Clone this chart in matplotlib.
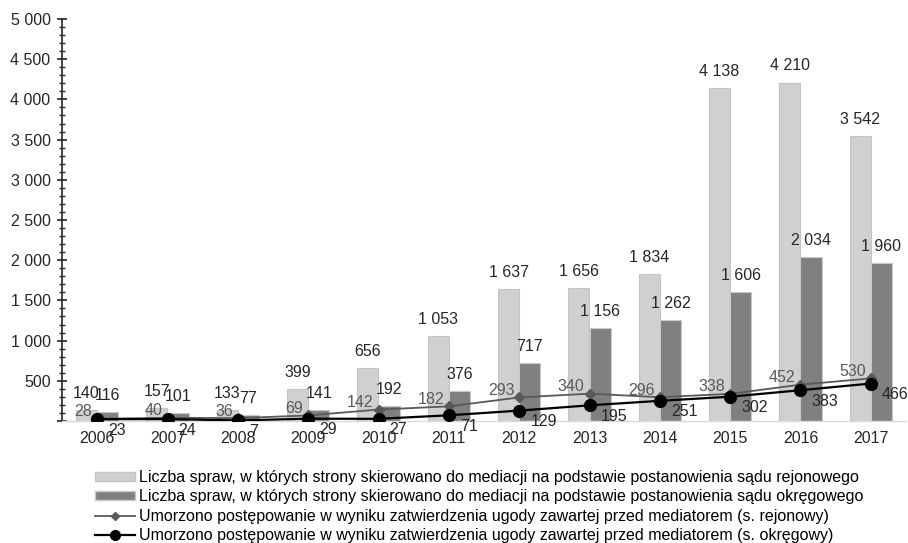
import matplotlib
matplotlib.use("Agg")
import matplotlib.pyplot as plt
import numpy as np
from matplotlib.ticker import FuncFormatter, MultipleLocator
from matplotlib.patches import Patch
from matplotlib.lines import Line2D

plt.rcParams['font.family'] = ['Liberation Sans', 'DejaVu Sans']

years = ['2006', '2007', '2008', '2009', '2010', '2011', '2012', '2013', '2014', '2015', '2016', '2017']
rejonowy_spr = [140, 157, 133, 399, 656, 1053, 1637, 1656, 1834, 4138, 4210, 3542]
okregowy_spr = [116, 101, 77, 141, 192, 376, 717, 1156, 1262, 1606, 2034, 1960]
rejonowy_umorz = [28, 40, 36, 69, 142, 182, 293, 340, 296, 338, 452, 530]
okregowy_umorz = [23, 24, 7, 29, 27, 71, 129, 195, 251, 302, 383, 466]

legend_labels = [
    "Liczba spraw, w których strony skierowano do mediacji na podstawie postanowienia sądu rejonowego",
    "Liczba spraw, w których strony skierowano do mediacji na podstawie postanowienia sądu okręgowego",
    "Umorzono postępowanie w wyniku zatwierdzenia ugody zawartej przed mediatorem (s. rejonowy)",
    "Umorzono postępowanie w wyniku zatwierdzenia ugody zawartej przed mediatorem (s. okręgowy)",
]

def fmt(v):
    return f"{int(v):,}".replace(",", " ")

fig = plt.figure(figsize=(9.08, 5.43), dpi=100)
ax = fig.add_axes([62/908, 122/543, 844/908, (421-19)/543])

x = np.arange(len(years))
w = 0.30
c_light = '#d0d0d0'
c_dark = '#808080'
ax.bar(x - w/2, rejonowy_spr, w, color=c_light, edgecolor='#c4c4c4', linewidth=0.8, zorder=2)
ax.bar(x + w/2, okregowy_spr, w, color=c_dark, edgecolor='#c8c8c8', linewidth=0.8, zorder=2)
ax.plot(x, rejonowy_umorz, color='#595959', lw=1.3, marker='D', ms=5.5, zorder=3)
ax.plot(x, okregowy_umorz, color='black', lw=1.6, marker='o', ms=8.5, zorder=4)

fs = 11.5
for xi, v in zip(x, rejonowy_spr):
    ax.annotate(fmt(v), (xi - w/2, v), xytext=(0, 6.5), textcoords='offset points',
                ha='center', va='bottom', fontsize=fs, color='#262626')
for xi, v in zip(x, okregowy_spr):
    ax.annotate(fmt(v), (xi + w/2, v), xytext=(0, 6.5), textcoords='offset points',
                ha='center', va='bottom', fontsize=fs, color='#262626')
for xi, v in zip(x, rejonowy_umorz):
    ax.annotate(fmt(v), (xi, v), xytext=(-3.5, 5), textcoords='offset points',
                ha='right', va='center', fontsize=fs, color='#595959')
for xi, v in zip(x, okregowy_umorz):
    ax.annotate(fmt(v), (xi, v), xytext=(8, -8), textcoords='offset points',
                ha='left', va='center', fontsize=fs, color='#262626')

ax.set_xlim(-0.5, len(years) - 0.5)
ax.set_ylim(0, 5000)
ax.set_xticks(x)
ax.set_xticklabels(years, fontsize=fs, color='#262626')
ax.yaxis.set_major_locator(MultipleLocator(500))
ax.yaxis.set_minor_locator(MultipleLocator(100))
ax.yaxis.set_major_formatter(FuncFormatter(lambda v, p: '' if v == 0 else fmt(v)))
ax.tick_params(axis='y', which='major', direction='inout', length=6.5, width=1.2, colors='#262626', labelsize=fs, pad=5)
ax.tick_params(axis='y', which='minor', direction='inout', length=3.8, width=1.0, color='#262626')
ax.tick_params(axis='x', length=0, pad=7)
for s in ['top', 'right']:
    ax.spines[s].set_visible(False)
ax.spines['left'].set_color('#262626')
ax.spines['left'].set_linewidth(1.2)
ax.spines['bottom'].set_color('#d9d9d9')
ax.spines['bottom'].set_linewidth(1.0)
ax.set_facecolor('none')

handles = [
    Patch(facecolor=c_light, edgecolor='#c4c4c4'),
    Patch(facecolor=c_dark, edgecolor='#c8c8c8'),
    Line2D([], [], color='#595959', lw=1.3, marker='D', ms=4.5),
    Line2D([], [], color='black', lw=1.6, marker='o', ms=7),
]
fig.legend(handles, legend_labels, loc='upper left', bbox_to_anchor=(95/908, 1 - 470/543),
           frameon=False, fontsize=fs, handlelength=2.5, handleheight=0.45,
           handletextpad=0.25, labelspacing=0.28, borderpad=0, borderaxespad=0)

fig.savefig('out.png', dpi=100)
